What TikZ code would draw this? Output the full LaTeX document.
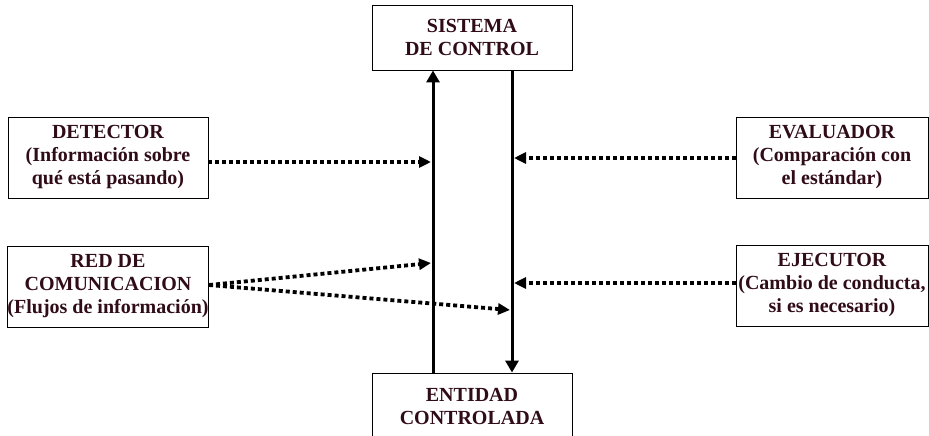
\documentclass[tikz,border=0pt]{standalone}
\usepackage{fontspec}
\setmainfont{Liberation Serif}
\usetikzlibrary{arrows.meta}
\definecolor{txt}{RGB}{48,12,24}
\begin{document}
\begin{tikzpicture}[x=1pt,y=-1pt,
  box/.style={draw=black,line width=0.9pt,fill=white,align=center,inner sep=0pt,
    text=txt,font=\fontsize{20}{23}\selectfont\bfseries},
  solidarrow/.style={line width=3pt,-{Triangle[length=12pt,width=13pt]}},
  dotarrow/.style={line width=3.8pt,dash pattern=on 4pt off 3pt,-{Triangle[length=12pt,width=11pt]}}]
\useasboundingbox (0,0) rectangle (929,436);
\node[box,minimum width=200pt,minimum height=65pt] (top) at (472,37.5) {SISTEMA\\DE CONTROL};
\node[box,minimum width=200pt,minimum height=66pt] (bottom) at (472,406) {ENTIDAD\\CONTROLADA};
\node[box,minimum width=200pt,minimum height=81pt] (det) at (108,157.5) {DETECTOR\\(Información sobre\\qué está pasando)};
\node[box,minimum width=200pt,minimum height=81pt] (red) at (108,286.5) {RED DE\\COMUNICACION\\(Flujos de información)};
\node[box,minimum width=192pt,minimum height=81pt] (eva) at (832,157.5) {EVALUADOR\\(Comparación con\\el estándar)};
\node[box,minimum width=192pt,minimum height=81pt] (eje) at (832,285.5) {EJECUTOR\\(Cambio de conducta,\\si es necesario)};
\coordinate (L) at (433,0);
\coordinate (R) at (512,0);
\draw[solidarrow] (bottom.north -| L) -- (top.south -| L);
\draw[solidarrow] (top.south -| R) -- (bottom.north -| R);
\coordinate (dA) at (431,162);
\coordinate (eA) at (514,158);
\coordinate (jA) at (514,283);
\coordinate (rA) at (431,263);
\coordinate (rB) at (510,310);
\coordinate (rS) at (0,285);
\draw[dotarrow] (det.east |- dA) -- (dA);
\draw[dotarrow] (eva.west |- eA) -- (eA);
\draw[dotarrow] (eje.west |- jA) -- (jA);
\draw[dotarrow] (red.east |- rS) -- (rA);
\draw[dotarrow] (red.east |- rS) -- (rB);
\end{tikzpicture}
\end{document}
